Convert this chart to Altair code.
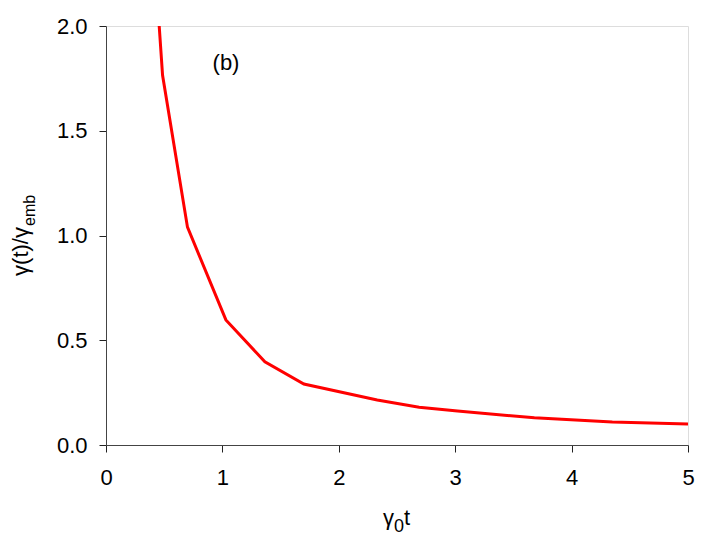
import altair as alt
import pandas as pd

# data
t_vals = [0.457, 0.486, 0.70, 1.03, 1.365, 1.70, 2.33, 2.69, 3.02, 3.68, 4.35, 5.0]
ratio_vals = [2.0, 1.765, 1.04, 0.597, 0.397, 0.291, 0.215, 0.18, 0.162, 0.13, 0.11, 0.10]
x_ticks = [0, 1, 2, 3, 4, 5]
y_ticks = [0.0, 0.5, 1.0, 1.5, 2.0]

df = pd.DataFrame({"t": t_vals, "r": ratio_vals})

FONT = "Liberation Sans"
W, H = 582, 419

line = alt.Chart(df).mark_line(color="#ff0000", strokeWidth=3, clip=True).encode(
    x=alt.X("t:Q", scale=alt.Scale(domain=[0, 5], nice=False, zero=False),
            axis=alt.Axis(values=x_ticks, title=None, grid=False, tickSize=7,
                          labelPadding=15, labelFontSize=22, labelFont=FONT,
                          labelColor="#000", domainColor="#444", tickColor="#222",
                          labelFlush=False)),
    y=alt.Y("r:Q", scale=alt.Scale(domain=[0, 2], nice=False, zero=False),
            axis=alt.Axis(values=y_ticks, format=".1f", title=None, grid=False, tickSize=7,
                          labelPadding=12, labelFontSize=22, labelFont=FONT,
                          labelColor="#000", domainColor="#444", tickColor="#222",
                          labelFlush=False)),
)

one = pd.DataFrame({"a": [0]})

def txt(s, x, y, size=20, align="left", baseline="alphabetic", angle=0):
    kw = dict(text=s, font=FONT, fontSize=size, align=align, baseline=baseline, color="#000")
    if angle:
        kw["angle"] = angle
    return alt.Chart(one).mark_text(**kw).encode(x=alt.value(x), y=alt.value(y))

panel = txt("(b)", 226 - 106, 63 - 26, size=22, align="center", baseline="middle")

# x title: gamma_0 t
xt1 = txt("γ", 394 - 106, 525 - 26, size=22, align="right")
xt2 = txt("0", 394 - 106, 532 - 26, size=18, align="left")
xt3 = txt("t", 404 - 106, 525 - 26, size=22, align="left")

# y title: gamma(t)/gamma_emb (rotated)
yt1 = txt("γ(t)/γ", 28 - 106, 227 - 26, size=22, align="right", angle=270)
yt2 = txt("emb", 35 - 106, 226 - 26, size=16, align="left", angle=270)

chart = alt.layer(line, panel, xt1, xt2, xt3, yt1, yt2).properties(
    width=W, height=H,
    autosize=alt.AutoSizeParams(type="none"),
    padding={"left": 98, "top": 18, "right": 18, "bottom": 92},
).configure_view(stroke="#444", strokeWidth=1.5).configure(background="white")

chart.save("out.html", embed_options={"renderer": "svg", "actions": False})
